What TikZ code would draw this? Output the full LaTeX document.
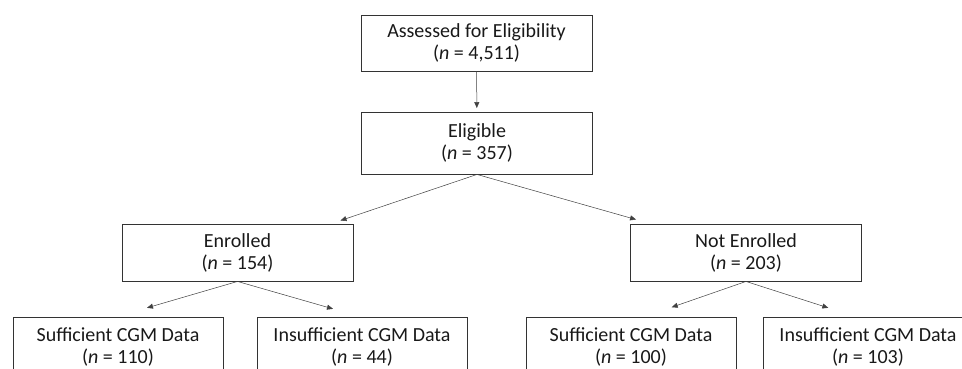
\documentclass[tikz,border=0pt]{standalone}
\usepackage{fontspec}
\setmainfont{Carlito}
\usetikzlibrary{arrows.meta}

\begin{document}
\begin{tikzpicture}[
    x=1pt, y=-1pt,
    font=\fontsize{20}{22}\selectfont,
    box/.style={rectangle, draw=black!80, line width=0.9pt, text=black!90, align=center, minimum width=231pt, minimum height=57pt, inner sep=0pt},
    leaf/.style={box, minimum width=210pt, minimum height=60pt},
    arrow/.style={-{Triangle[length=6pt,width=5pt]}, line width=0.5pt, draw=black!75}
]
\useasboundingbox (0,0) rectangle (962,369);
\clip (0,0) rectangle (962,369);

% Nodes
\node[box, minimum height=56pt] (assess) at (476.5,43) {Assessed for Eligibility\\(\textit{n} = 4,511)};
\node[box, minimum height=62pt] (elig) at (477,143) {Eligible\\(\textit{n} = 357)};
\node[box] (enrol) at (237.5,252.5) {Enrolled\\(\textit{n} = 154)};
\node[box] (notenrol) at (746,252.5) {Not Enrolled\\(\textit{n} = 203)};

\node[leaf] (suffA) at (118,347) {Sufficient CGM Data\\(\textit{n} = 110)};
\node[leaf] (insuffA) at (362,347) {Insufficient CGM Data\\(\textit{n} = 44)};
\node[leaf] (suffB) at (631,347) {Sufficient CGM Data\\(\textit{n} = 100)};
\node[leaf] (insuffB) at (868,347) {Insufficient CGM Data\\(\textit{n} = 103)};

% Arrows
\draw[arrow, shorten >=3.5pt] (assess) -- (elig);
\draw[arrow] (elig.south) -- ([shift={(-13pt,3pt)}]enrol.north east);
\draw[arrow] (elig.south) -- ([shift={(6pt,4pt)}]notenrol.north west);
\draw[arrow] (enrol.south) -- ([shift={(29pt,8.7pt)}]suffA.north);
\draw[arrow] (enrol.south) -- ([shift={(-29pt,7.7pt)}]insuffA.north);
\draw[arrow] (notenrol.south) -- ([shift={(40.7pt,9.3pt)}]suffB.north);
\draw[arrow] (notenrol.south) -- ([shift={(-39.7pt,8.7pt)}]insuffB.north);

\end{tikzpicture}
\end{document}
